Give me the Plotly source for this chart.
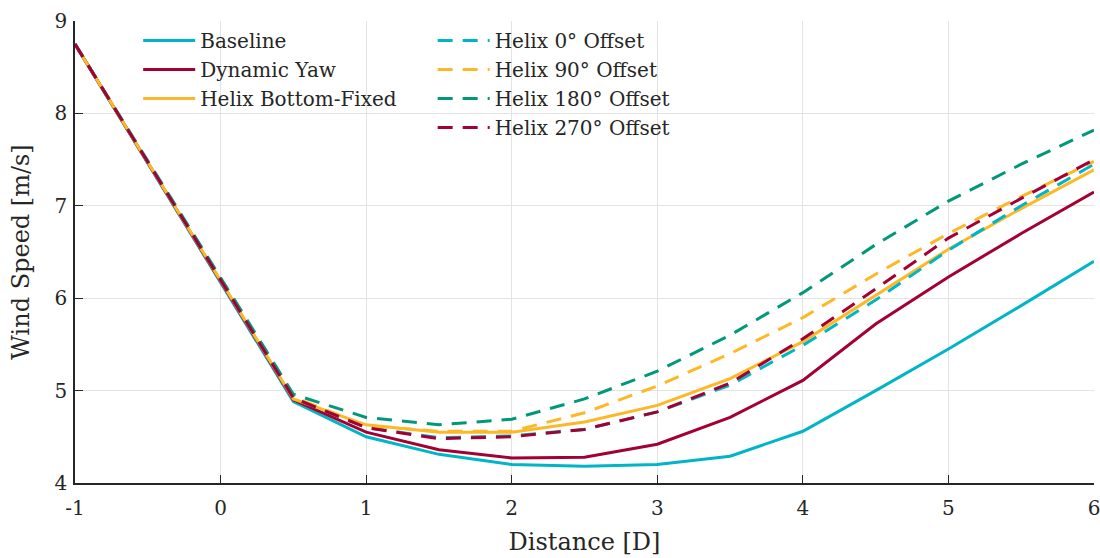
import plotly.graph_objects as go

distance = [-1, 0.5, 1, 1.5, 2, 2.5, 3, 3.5, 4, 4.5, 5, 5.5, 6]

baseline = [8.75, 4.88, 4.50, 4.31, 4.20, 4.18, 4.20, 4.29, 4.56, 5.00, 5.45, 5.92, 6.40]
dynamic_yaw = [8.75, 4.90, 4.55, 4.36, 4.27, 4.28, 4.42, 4.71, 5.11, 5.72, 6.23, 6.70, 7.15]
helix_bf = [8.75, 4.91, 4.63, 4.55, 4.55, 4.66, 4.84, 5.13, 5.53, 6.03, 6.53, 6.97, 7.39]
helix_0 = [8.75, 4.92, 4.60, 4.49, 4.51, 4.58, 4.77, 5.06, 5.49, 5.98, 6.52, 7.00, 7.45]
helix_90 = [8.75, 4.93, 4.62, 4.56, 4.56, 4.76, 5.05, 5.40, 5.79, 6.26, 6.70, 7.10, 7.48]
helix_180 = [8.75, 4.96, 4.71, 4.63, 4.69, 4.91, 5.21, 5.60, 6.06, 6.58, 7.05, 7.45, 7.82]
helix_270 = [8.75, 4.92, 4.60, 4.48, 4.50, 4.58, 4.77, 5.08, 5.56, 6.10, 6.65, 7.08, 7.50]

x_ticks = [-1, 0, 1, 2, 3, 4, 5, 6]
y_ticks = [4, 5, 6, 7, 8, 9]

CYAN = "#00B5C6"
RED = "#A30034"
ORANGE = "#FDB827"
GREEN = "#009878"

FONT = "DejaVu Serif, Liberation Serif, serif"

series = [
    ("Baseline", baseline, CYAN, "solid", "legend"),
    ("Dynamic Yaw", dynamic_yaw, RED, "solid", "legend"),
    ("Helix Bottom-Fixed", helix_bf, ORANGE, "solid", "legend"),
    ("Helix 0° Offset", helix_0, CYAN, "15px,10px", "legend2"),
    ("Helix 90° Offset", helix_90, ORANGE, "15px,10px", "legend2"),
    ("Helix 180° Offset", helix_180, GREEN, "15px,10px", "legend2"),
    ("Helix 270° Offset", helix_270, RED, "15px,10px", "legend2"),
]

fig = go.Figure()
for name, ys, color, dash, leg in series:
    fig.add_trace(go.Scatter(
        x=distance, y=ys, name=name, mode="lines",
        line=dict(color=color, width=3, dash=dash),
        legend=leg,
    ))

axis_common = dict(
    showgrid=True, gridcolor="#E3E3E3", gridwidth=1,
    showline=True, linecolor="#262626", linewidth=1.5,
    ticks="inside", ticklen=8, tickwidth=1, tickcolor="#262626",
    zeroline=False, mirror=False, automargin=False,
    ticklabeloverflow="allow",
    tickfont=dict(family=FONT, size=20, color="#262626"),
)

fig.update_layout(
    width=1100, height=558,
    margin=dict(l=75, r=6, t=21, b=75),
    plot_bgcolor="white", paper_bgcolor="white",
    font=dict(family=FONT, color="#262626"),
    xaxis=dict(range=[-1, 6], tickvals=x_ticks, ticktext=[str(v) for v in x_ticks],
               ticklabelstandoff=6,
               title=dict(text="Distance [D]", font=dict(family=FONT, size=24), standoff=14),
               **axis_common),
    yaxis=dict(range=[4, 9], tickvals=y_ticks, ticktext=[str(v) for v in y_ticks],
               ticklabelstandoff=2,
               title=dict(text="Wind Speed [m/s]", font=dict(family=FONT, size=24), standoff=18),
               **axis_common),
    legend=dict(x=0.062, y=1.0, xanchor="left", yanchor="top",
                bgcolor="rgba(0,0,0,0)", borderwidth=0,
                font=dict(family=FONT, size=20), tracegroupgap=0, itemwidth=52),
    legend2=dict(x=0.351, y=1.0, xanchor="left", yanchor="top",
                 bgcolor="rgba(0,0,0,0)", borderwidth=0,
                 font=dict(family=FONT, size=20), tracegroupgap=0, itemwidth=52),
)

fig.write_html(
    "out.html",
    config={"displayModeBar": False},
    post_script="document.body.style.margin='0';document.body.style.overflow='hidden';",
)
